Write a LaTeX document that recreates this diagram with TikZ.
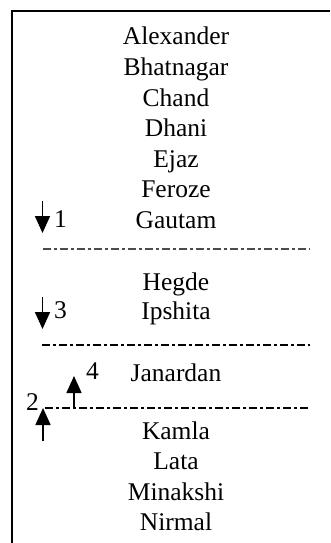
\documentclass[tikz,border=0pt]{standalone}
\usepackage{fontspec}
\setmainfont{Liberation Serif}
\usetikzlibrary{arrows.meta}
\begin{document}
\begin{tikzpicture}[x=1pt,y=-1pt,
  person/.style={anchor=base,inner sep=0pt,font=\fontsize{25.5}{30}\selectfont},
  num/.style={anchor=base west,inner sep=0pt,font=\fontsize{25.5}{30}\selectfont},
  sep/.style={line width=2pt,dash pattern=on 8pt off 3pt on 3pt off 3pt},
  sepl/.style={line width=1.2pt,black!70,dash pattern=on 8pt off 3pt on 3pt off 3pt},
  move/.style={line width=1.6pt,-{Triangle[length=17pt,width=15pt]}}]
\useasboundingbox (0,0) rectangle (330,543);
\draw[line width=2pt] (11.5,543) -- (11.5,11.5) -- (330,11.5);
\node[person] (alex) at (176,45) {Alexander};
\node[person] (bhat) at (176,75.5) {Bhatnagar};
\node[person] (chand) at (176,106) {Chand};
\node[person] (dhani) at (176,136.5) {Dhani};
\node[person] (ejaz) at (176,167) {Ejaz};
\node[person] (feroze) at (176,197.5) {Feroze};
\node[person] (gautam) at (176,228) {Gautam};
\node[person] (hegde) at (176,290) {Hegde};
\node[person] (ipshita) at (176,319) {Ipshita};
\node[person] (janardan) at (176,381) {Janardan};
\node[person] (kamla) at (176,439) {Kamla};
\node[person] (lata) at (176,469.5) {Lata};
\node[person] (minakshi) at (176,500) {Minakshi};
\node[person] (nirmal) at (176,530) {Nirmal};
\coordinate (s1a) at (43,249); \coordinate (s1b) at (310,249);
\coordinate (s2a) at (42,345); \coordinate (s2b) at (310,345);
\coordinate (s3a) at (45,408); \coordinate (s3b) at (310,408);
\draw[sepl] (s1a) -- (s1b);
\draw[sep] (s2a) -- (s2b);
\draw[sep] (s3a) -- (s3b);
\coordinate (a1s) at (42.5,201); \coordinate (a1e) at (42.5,233);
\coordinate (a3s) at (42.5,297); \coordinate (a3e) at (42.5,329);
\coordinate (a4s) at (74,408); \coordinate (a4e) at (74,376);
\coordinate (a2s) at (43,441); \coordinate (a2e) at (43,408);
\draw[move] (a1s) -- (a1e);
\draw[move] (a3s) -- (a3e);
\draw[move] (a4s) -- (a4e);
\draw[move] (a2s) -- (a2e);
\node[num] (n1) at (54,227) {1};
\node[num] (n3) at (54,318) {3};
\node[num] (n4) at (86,379) {4};
\node[num] (n2) at (26,410) {2};
\end{tikzpicture}
\end{document}
